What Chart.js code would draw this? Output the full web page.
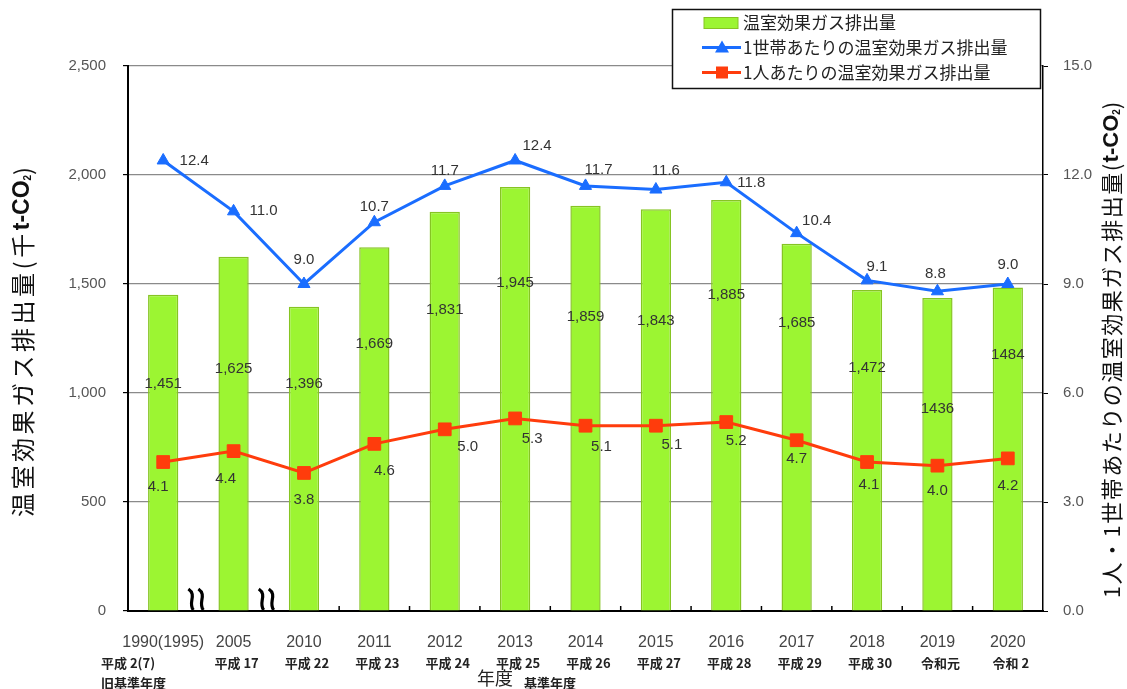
<!DOCTYPE html>
<html lang="ja">
<head>
<meta charset="utf-8">
<script src="https://cdn.jsdelivr.net/npm/chart.js@4.4.1/dist/chart.umd.min.js"></script>
<style>
  html, body { margin: 0; padding: 0; background: #fff; }
  #wrap { width: 1127px; height: 689px; position: relative; }
  canvas { display: block; }
</style>
</head>
<body>
<div id="wrap"><canvas id="c" width="1127" height="689"></canvas></div>
<script>
// ---- data ----
const years = ['1990(1995)', '2005', '2010', '2011', '2012', '2013', '2014', '2015', '2016', '2017', '2018', '2019', '2020'];
const eraLabels = ['平成 2(7)', '平成 17', '平成 22', '平成 23', '平成 24', '平成 25', '平成 26', '平成 27', '平成 28', '平成 29', '平成 30', '令和元', '令和 2'];
const emissions = [1451, 1625, 1396, 1669, 1831, 1945, 1859, 1843, 1885, 1685, 1472, 1436, 1484];
const perHousehold = [12.4, 11.0, 9.0, 10.7, 11.7, 12.4, 11.7, 11.6, 11.8, 10.4, 9.1, 8.8, 9.0];
const perPerson = [4.1, 4.4, 3.8, 4.6, 5.0, 5.3, 5.1, 5.1, 5.2, 4.7, 4.1, 4.0, 4.2];
const groupDigits = [true, true, true, true, true, true, true, true, true, true, true, false, false];

const seriesNames = ['温室効果ガス排出量', '1世帯あたりの温室効果ガス排出量', '1人あたりの温室効果ガス排出量'];

// ---- label placement (pixel offsets from each mark) ----
const barLabelDrop = [89, 112, 77, 97, 98, 96, 111, 112, 95, 79, 78, 111, 67];
const householdLabelShift = [[31, 0], [30, 0], [0, -24], [0, -15], [0, -15], [22, -15], [13, -16], [10, -19], [25, 1], [20, -12], [10, -14], [-2, -17], [0, -19]];
const personLabelShift = [[-5, 25], [-8, 28], [0, 27], [10, 27], [23, 18], [17, 20], [16, 21], [16, 19], [10, 19], [0, 19], [2, 23], [0, 25], [0, 27]];

// ---- colours & fonts ----
const GREEN = '#9cf532';
const GREEN_EDGE = '#86c423';
const BLUE = '#1a6dff';
const RED = '#ff3c0c';
const JP = '"Noto Sans CJK JP", "Noto Sans", sans-serif';
const NUM = '"Liberation Sans", Arial, sans-serif';

// draws a row of differently styled text pieces centred on (cx, cy)
function drawRuns(ctx, runs, cx, cy) {
  let total = 0;
  runs.forEach(r => {
    ctx.font = r.font;
    ctx.letterSpacing = (r.ls || 0) + 'px';
    r.w = ctx.measureText(r.t).width;
    total += r.w;
  });
  let x = cx - total / 2;
  ctx.textAlign = 'left';
  ctx.textBaseline = 'middle';
  runs.forEach(r => {
    ctx.font = r.font;
    ctx.letterSpacing = (r.ls || 0) + 'px';
    ctx.fillText(r.t, x, cy + (r.dy || 0));
    x += r.w;
  });
  ctx.letterSpacing = '0px';
}

const decorations = {
  id: 'decorations',
  afterDatasetsDraw(chart) {
    const ctx = chart.ctx;
    const bars = chart.getDatasetMeta(2).data;
    const hh = chart.getDatasetMeta(0).data;
    const pp = chart.getDatasetMeta(1).data;
    ctx.save();
    ctx.fillStyle = '#333';
    ctx.textAlign = 'center';
    ctx.textBaseline = 'middle';
    ctx.font = '15px ' + NUM;
    bars.forEach((b, i) => {
      const v = emissions[i];
      const txt = groupDigits[i] ? v.toLocaleString('en-US') : String(v);
      ctx.fillText(txt, b.x, b.y + barLabelDrop[i]);
    });
    hh.forEach((p, i) => {
      ctx.fillText(perHousehold[i].toFixed(1), p.x + householdLabelShift[i][0], p.y + householdLabelShift[i][1]);
    });
    pp.forEach((p, i) => {
      ctx.fillText(perPerson[i].toFixed(1), p.x + personLabelShift[i][0], p.y + personLabelShift[i][1]);
    });
    ctx.restore();
  },
  afterDraw(chart) {
    const ctx = chart.ctx;
    const area = chart.chartArea;
    const xs = chart.scales.x;
    const n = years.length;
    ctx.save();

    // category separators on the x axis (pointing into the plot)
    const half = (xs.getPixelForValue(1) - xs.getPixelForValue(0)) / 2;
    ctx.strokeStyle = '#000';
    ctx.lineWidth = 1.5;
    for (let i = 2; i < n - 1; i++) {
      const bx = xs.getPixelForValue(i) + half;
      ctx.beginPath();
      ctx.moveTo(bx, area.bottom);
      ctx.lineTo(bx, area.bottom - 5);
      ctx.stroke();
    }

    // axis break marks between the non-consecutive years
    [0, 1].forEach(i => {
      const bx = xs.getPixelForValue(i) + half;
      ctx.fillStyle = '#fff';
      ctx.fillRect(bx - 12, area.bottom - 23, 22, 21);
      ctx.strokeStyle = '#000';
      ctx.lineWidth = 3.2;
      [-7, 3].forEach(off => {
        const x0 = bx + off;
        ctx.beginPath();
        ctx.moveTo(x0 - 3, area.bottom - 22);
        ctx.bezierCurveTo(x0 + 6, area.bottom - 16, x0 - 4, area.bottom - 8, x0 + 2, area.bottom - 1);
        ctx.stroke();
      });
    });

    // era row under the years
    ctx.fillStyle = '#222';
    ctx.textBaseline = 'middle';
    ctx.font = 'bold 13px ' + JP;
    eraLabels.forEach((t, i) => {
      const px = xs.getPixelForValue(i);
      if (i === 0) {
        ctx.textAlign = 'left';
        ctx.fillText(t, 101, area.bottom + 52);
        ctx.fillText('旧基準年度', 101, area.bottom + 72);
      } else {
        ctx.textAlign = 'center';
        ctx.fillText(t, px + 3, area.bottom + 52);
      }
    });
    const base = xs.getPixelForValue(5);
    ctx.textAlign = 'left';
    ctx.fillText('基準年度', base + 9, area.bottom + 72);
    ctx.font = '18px ' + JP;
    ctx.textAlign = 'center';
    ctx.fillText('年度', base - 20, area.bottom + 67);

    // axis titles
    ctx.fillStyle = '#111';
    ctx.save();
    ctx.translate(23, 342);
    ctx.rotate(-Math.PI / 2);
    drawRuns(ctx, [
      { t: '温室効果ガス排出量(千', font: '24px ' + JP, ls: 3.5 },
      { t: 't-CO', font: 'bold 23px ' + NUM },
      { t: '2', font: 'bold 10px ' + NUM, dy: 5 },
      { t: ')', font: '23px ' + JP }
    ], 0, 0);
    ctx.restore();

    ctx.save();
    ctx.translate(1112, 350);
    ctx.rotate(-Math.PI / 2);
    drawRuns(ctx, [
      { t: '1人・1世帯あたりの温室効果ガス排出量(', font: '22px ' + JP, ls: 1.5 },
      { t: 't-CO', font: 'bold 22px ' + NUM },
      { t: '2', font: 'bold 10px ' + NUM, dy: 5 },
      { t: ')', font: '22px ' + JP }
    ], 0, 0);
    ctx.restore();

    // legend
    const lx = 672.5, ly = 9.5, lw = 368, lh = 79;
    ctx.fillStyle = '#fff';
    ctx.fillRect(lx, ly, lw, lh);
    ctx.strokeStyle = '#111';
    ctx.lineWidth = 1.5;
    ctx.strokeRect(lx, ly, lw, lh);
    const rows = [ly + 13, ly + 38, ly + 63];
    // bar swatch
    ctx.fillStyle = GREEN;
    ctx.fillRect(704, rows[0] - 5, 34, 11);
    ctx.strokeStyle = GREEN_EDGE;
    ctx.lineWidth = 1;
    ctx.strokeRect(704, rows[0] - 5, 34, 11);
    // line swatches
    [[BLUE, rows[1], 'tri'], [RED, rows[2], 'sq']].forEach(([c, y, m]) => {
      ctx.strokeStyle = c;
      ctx.lineWidth = 3;
      ctx.beginPath();
      ctx.moveTo(702, y);
      ctx.lineTo(741, y);
      ctx.stroke();
      ctx.fillStyle = c;
      if (m === 'tri') {
        ctx.beginPath();
        ctx.moveTo(722, y - 7);
        ctx.lineTo(729, y + 5);
        ctx.lineTo(715, y + 5);
        ctx.closePath();
        ctx.fill();
      } else {
        ctx.fillRect(716, y - 6, 12, 12);
      }
    });
    ctx.fillStyle = '#222';
    ctx.font = '17px ' + JP;
    ctx.textAlign = 'left';
    ctx.textBaseline = 'middle';
    seriesNames.forEach((s, i) => ctx.fillText(s, 743, rows[i]));

    ctx.restore();
  }
};

const ctx = document.getElementById('c').getContext('2d');
new Chart(ctx, {
  data: {
    labels: years,
    datasets: [
      {
        type: 'line', label: seriesNames[1], data: perHousehold, yAxisID: 'y1',
        borderColor: BLUE, backgroundColor: BLUE, borderWidth: 3,
        pointStyle: 'triangle', pointRadius: 7, pointBorderWidth: 1, order: 1
      },
      {
        type: 'line', label: seriesNames[2], data: perPerson, yAxisID: 'y1',
        borderColor: RED, backgroundColor: RED, borderWidth: 3,
        pointStyle: 'rect', pointRadius: 9, pointBorderWidth: 1, order: 0
      },
      {
        type: 'bar', label: seriesNames[0], data: emissions, yAxisID: 'y',
        backgroundColor: GREEN, borderColor: GREEN_EDGE, borderWidth: 1.5,
        barPercentage: 0.43, categoryPercentage: 1, order: 2
      }
    ]
  },
  options: {
    responsive: false,
    animation: false,
    devicePixelRatio: 1,
    layout: { padding: { top: 66, left: 0, right: 0, bottom: 0 } },
    plugins: { legend: { display: false }, tooltip: { enabled: false } },
    scales: {
      x: {
        offset: true,
        grid: { display: false },
        border: { display: true, color: '#000', width: 2 },
        ticks: { color: '#444', font: { family: NUM, size: 16 }, padding: 14, maxRotation: 0, autoSkip: false },
        afterFit(s) { s.height = 78; }
      },
      y: {
        position: 'left', min: 0, max: 2500,
        ticks: { stepSize: 500, color: '#555', font: { family: NUM, size: 15 }, padding: 17,
                 callback: v => v.toLocaleString('en-US') },
        grid: { color: '#8a8a8a', lineWidth: 1.2, tickColor: '#000', tickLength: 5 },
        border: { color: '#000', width: 2 },
        afterFit(s) { s.width = 128; }
      },
      y1: {
        position: 'right', min: 0, max: 15,
        ticks: { stepSize: 3, color: '#555', font: { family: NUM, size: 15 }, padding: 15,
                 callback: v => v.toFixed(1) },
        grid: { drawOnChartArea: false, tickColor: '#000', tickLength: 5 },
        border: { color: '#000', width: 1.5 },
        afterFit(s) { s.width = 84; }
      }
    }
  },
  plugins: [decorations]
});
</script>
</body>
</html>
